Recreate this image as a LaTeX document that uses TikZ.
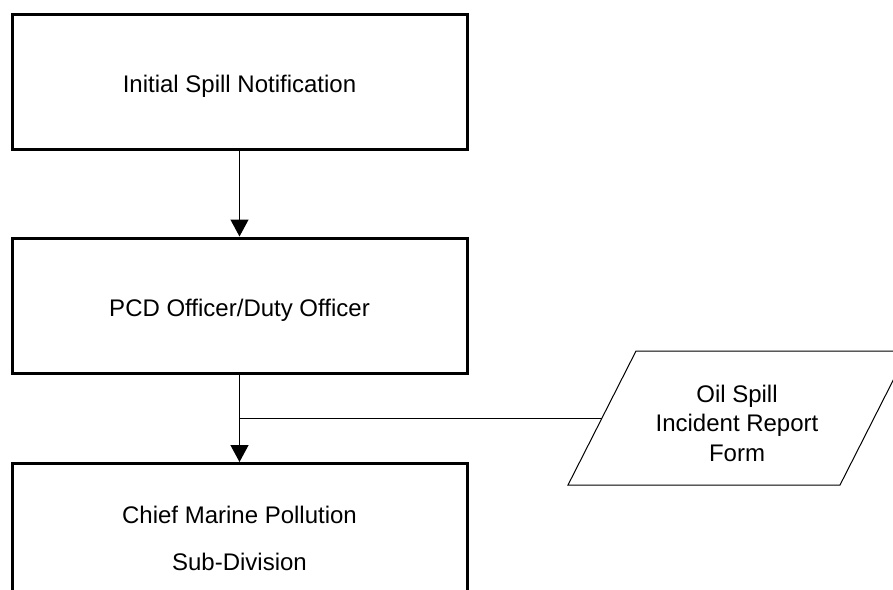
\documentclass[tikz,border=0pt]{standalone}
\usepackage{fontspec}
\setmainfont{Liberation Sans}
\usetikzlibrary{arrows.meta}
\begin{document}
\begin{tikzpicture}[x=1pt,y=-1pt,
  box/.style={draw,line width=3pt,minimum width=455pt,minimum height=135pt,inner sep=0pt,text height=22pt,text depth=0pt,font=\fontsize{24}{29}\selectfont},
  conn/.style={line width=1.3pt,-{Triangle[width=18pt,length=17pt]}},
  plain/.style={line width=1pt}]
\clip (0,0) rectangle (893,589);
\fill[white] (0,0) rectangle (893,589);
\node[box] (isn) at (239.5,81.5) {Initial Spill Notification};
\node[box] (pcd) at (239.5,305.5) {PCD Officer/Duty Officer};
\node[box,minimum height=178pt,anchor=north] (cmp) at (239.5,462) {};
\node[font=\fontsize{24}{47}\selectfont,align=center] (cmpt) at (239.5,538.5) {Chief Marine Pollution\\Sub-Division};
% parallelogram
\coordinate (ptl) at (636,351);
\coordinate (ptr) at (908,351);
\coordinate (pbr) at (840,485);
\coordinate (pbl) at (568,485);
\draw[plain] (ptl) -- (ptr) -- (pbr) -- (pbl) -- cycle;
\node[font=\fontsize{24}{29.5}\selectfont,align=center] (form) at (737,423) {Oil Spill\\Incident Report\\Form};
\coordinate (formin) at (602,418);
\coordinate (join) at (pcd.south |- formin);
\draw[conn] (isn.south) -- (pcd.north);
\draw[conn] (pcd.south) -- (cmp.north);
\draw[plain] (join) -- (formin);
\end{tikzpicture}
\end{document}
